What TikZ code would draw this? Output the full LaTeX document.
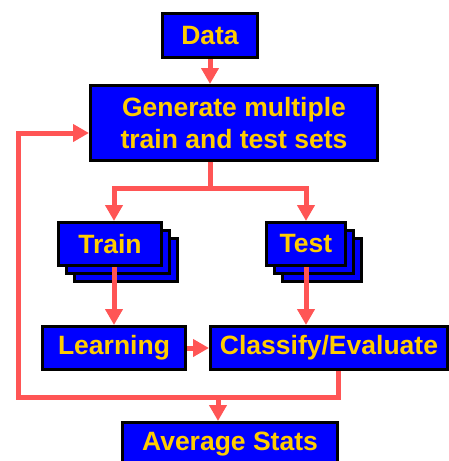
\documentclass[tikz,border=0pt]{standalone}
\usepackage{fontspec}
\setmainfont{Liberation Sans}
\usepackage{xcolor}
\definecolor{boxblue}{RGB}{0, 0, 255}
\definecolor{labelgold}{RGB}{255, 204, 0}
\definecolor{flowred}{RGB}{255, 85, 85}
\usetikzlibrary{arrows.meta, positioning, calc}

\begin{document}
\begin{tikzpicture}[x=1pt, y=-1pt, >={Triangle[width=17pt, length=16pt]},
    stage/.style={draw=black, line width=2.8pt, fill=boxblue, text=labelgold, inner sep=0pt, align=center,
        font=\fontsize{26.5}{32}\selectfont\bfseries},
    flow/.style={draw=flowred, line width=5pt}]
    \useasboundingbox (0, 0) rectangle (449, 461);

    \node[stage, minimum width=95.2, minimum height=44.2] (data) at (210, 35.5) {Data};
    \node[stage, minimum width=287.2, minimum height=75.2] (gen) at (234, 123) {Generate multiple\\train and test sets};

    \foreach \d in {16, 8} {
        \node[stage, minimum width=103.2, minimum height=43.2] (train-\d) at (110+\d, 244+\d) {};
        \node[stage, minimum width=79.2, minimum height=43.2] (test-\d) at (306+\d, 244+\d) {};
    }
    \node[stage, minimum width=103.2, minimum height=43.2] (train) at (110, 244) {Train};
    \node[stage, minimum width=79.2, minimum height=43.2] (test) at (306, 244) {Test};

    \node[stage, minimum width=143.2, minimum height=43.2] (learn) at (114, 348) {Learning};
    \node[stage, minimum width=237.2, minimum height=43.2] (classify) at (329, 348) {Classify/Evaluate};
    \node[stage, minimum width=215.2, minimum height=43.2] (avg) at (230, 444) {Average Stats};

    \coordinate (split) at (210, 188);
    \coordinate (merge) at (338, 397);
    \coordinate (turn) at (18, 133);
    \coordinate (drop) at (218, 397);

    \draw[flow, ->] (data.south) -- (data.south |- gen.north);
    \draw[flow] (gen.south -| split) -- (split);
    \draw[flow, ->] (split) -| (train.north -| learn);
    \draw[flow, ->] (split) -| (test.north);
    \draw[flow, ->] (train.south -| learn) -- (learn.north);
    \draw[flow, ->] (test.south) -- (test.south |- classify.north);
    \draw[flow, ->] (learn.east) -- (classify.west);
    \draw[flow, ->] (classify.south -| merge) -- (merge) -| (turn) -- (turn -| gen.west);
    \draw[flow, ->] (drop) -- (drop |- avg.north);
\end{tikzpicture}
\end{document}
